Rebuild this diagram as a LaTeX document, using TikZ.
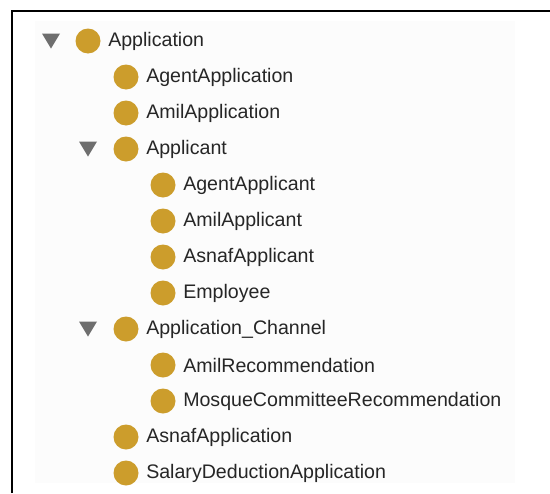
\documentclass[tikz,border=0pt]{standalone}
\usepackage{fontspec}
\setmainfont{Liberation Sans}
\definecolor{owlgold}{HTML}{CC9D2C}
\definecolor{arrowgray}{HTML}{6E6E6E}
\definecolor{panel}{HTML}{FCFCFC}
\begin{document}
\begin{tikzpicture}[x=0.75pt,y=-0.75pt,
  cls/.style={circle,fill=owlgold,minimum size=18.75pt,inner sep=0pt,outer sep=0pt},
  lbl/.style={anchor=west,inner sep=0pt,font=\fontsize{14.7}{16}\selectfont,text=black!85},
  tri/.style={fill=arrowgray,draw=none}]
\useasboundingbox (0,0) rectangle (550,493);
\fill[white] (0,0) rectangle (550,493);
\fill[panel] (35,21) rectangle (515,483);
\draw[line width=2.2pt] (12,493) -- (12,11) -- (550,11);
% expand triangles
\newcommand{\exptri}[3]{\fill[tri] (#1-9,#2-7.5) -- (#1+9,#2-7.5) -- (#1,#2+7.5) -- cycle; \coordinate (#3) at (#1,#2);}
\exptri{51}{41}{t0}
\exptri{88}{149}{t1}
\exptri{88}{329}{t2}
% rows
\foreach \n/\lx/\yy/\txt in {
  a/88/41/Application,
  b/126/77/AgentApplication,
  c/126/113/AmilApplication,
  d/126/149/Applicant,
  e/163/185/AgentApplicant,
  f/163/221/AmilApplicant,
  g/163/257/AsnafApplicant,
  h/163/293/Employee,
  i/126/329/Application\_Channel,
  j/163/365/AmilRecommendation,
  k/163/401/MosqueCommitteeRecommendation,
  l/126/437/AsnafApplication,
  m/126/473/SalaryDeductionApplication} {
  \node[cls] (c\n) at (\lx,\yy) {};
  \node[lbl] (l\n) at (\lx+20,\yy) {\txt};
}
\end{tikzpicture}
\end{document}
